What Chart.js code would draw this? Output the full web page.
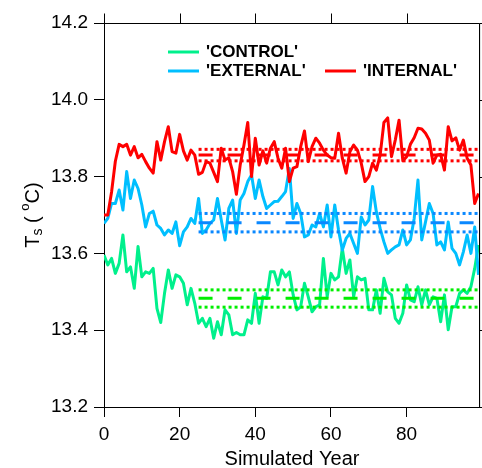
<!DOCTYPE html>
<html>
<head>
<meta charset="utf-8">
<script src="https://cdn.jsdelivr.net/npm/chart.js@4"></script>
<style>
body{margin:0;background:#fff}
</style>
</head>
<body>
<canvas id="myChart" width="482" height="468"></canvas>
<script>
// simulated years 0..99
var years=[];
for(var i=0;i<100;i++){years.push(i);}

var xMax=99.4;
var xTicks=[0,20,40,60,80];
var yTicks=[13.2,13.4,13.6,13.8,14.0,14.2];

var control=[13.596,13.570,13.587,13.548,13.574,13.648,13.552,13.565,13.509,13.618,
13.539,13.552,13.548,13.561,13.457,13.420,13.496,13.557,13.509,13.544,
13.539,13.522,13.466,13.509,13.470,13.418,13.431,13.409,13.431,13.379,
13.422,13.388,13.453,13.440,13.388,13.394,13.388,13.388,13.427,13.418,
13.496,13.418,13.487,13.483,13.552,13.552,13.518,13.557,13.539,13.552,
13.492,13.453,13.461,13.522,13.487,13.448,13.461,13.466,13.587,13.487,
13.548,13.531,13.539,13.613,13.548,13.583,13.487,13.539,13.531,13.535,
13.453,13.453,13.505,13.444,13.535,13.500,13.492,13.431,13.418,13.444,
13.518,13.479,13.474,13.513,13.466,13.505,13.466,13.487,13.483,13.422,
13.492,13.401,13.461,13.461,13.496,13.505,13.496,13.513,13.561,13.622];

var external=[13.678,13.691,13.730,13.730,13.765,13.713,13.813,13.743,13.791,13.769,
13.726,13.669,13.704,13.710,13.674,13.665,13.648,13.661,13.652,13.682,
13.620,13.656,13.669,13.691,13.678,13.743,13.652,13.661,13.678,13.687,
13.743,13.687,13.635,13.717,13.739,13.652,13.739,13.756,13.787,13.804,
13.743,13.791,13.748,13.717,13.726,13.735,13.736,13.748,13.761,13.821,
13.691,13.730,13.704,13.643,13.648,13.674,13.669,13.704,13.669,13.726,
13.643,13.726,13.661,13.609,13.639,13.652,13.626,13.600,13.695,13.674,
13.687,13.774,13.708,13.665,13.630,13.600,13.609,13.617,13.622,13.661,
13.622,13.635,13.691,13.791,13.635,13.682,13.730,13.704,13.622,13.630,
13.609,13.682,13.613,13.600,13.570,13.604,13.648,13.600,13.669,13.544];

var internal=[13.700,13.700,13.760,13.840,13.884,13.878,13.884,13.856,13.878,13.849,
13.858,13.839,13.822,13.809,13.891,13.843,13.891,13.930,13.865,13.861,
13.910,13.867,13.843,13.869,13.856,13.806,13.811,13.839,13.835,13.811,
13.787,13.874,13.843,13.849,13.813,13.754,13.830,13.882,13.941,13.800,
13.900,13.830,13.867,13.835,13.874,13.891,13.848,13.822,13.874,13.787,
13.822,13.826,13.878,13.919,13.839,13.878,13.900,13.887,13.869,13.856,
13.849,13.848,13.913,13.848,13.809,13.865,13.882,13.869,13.835,13.787,
13.800,13.835,13.817,13.856,13.941,13.953,13.852,13.895,13.947,13.841,
13.852,13.884,13.901,13.926,13.924,13.913,13.895,13.835,13.856,13.858,
13.817,13.930,13.893,13.901,13.869,13.895,13.848,13.830,13.730,13.756];

// mean and bounds over years 25..end
var refStart=25;
var controlMean=[13.483,13.460,13.505];
var externalMean=[13.680,13.656,13.704];
var internalMean=[13.856,13.841,13.871];

var fontFam='"Liberation Sans", Arial, Helvetica, sans-serif';

function pts(arr){
  var out=[];
  for(var i=0;i<years.length;i++){out.push({x:years[i],y:arr[i]});}
  return out;
}
function refLine(v,color,dash){
  return {label:'',data:[{x:refStart,y:v},{x:xMax,y:v}],borderColor:color,borderWidth:3,
    borderDash:dash,pointRadius:0,fill:false,tension:0};
}

var refSets=[];
var refDefs=[[controlMean,'#00ee00'],[externalMean,'#0a88ff'],[internalMean,'#ff0000']];
for(var r=0;r<refDefs.length;r++){
  refSets.push(refLine(refDefs[r][0][0],refDefs[r][1],[14,15]));
  refSets.push(refLine(refDefs[r][0][1],refDefs[r][1],[3,3]));
  refSets.push(refLine(refDefs[r][0][2],refDefs[r][1],[3,3]));
}

var mainSets=[
  {label:"'INTERNAL'",data:pts(internal),borderColor:'#ff0000'},
  {label:"'EXTERNAL'",data:pts(external),borderColor:'#00bfff'},
  {label:"'CONTROL'",data:pts(control),borderColor:'#00f08c'}
];
for(var m=0;m<mainSets.length;m++){
  mainSets[m].borderWidth=3;
  mainSets[m].pointRadius=0;
  mainSets[m].tension=0;
  mainSets[m].fill=false;
  mainSets[m].borderJoinStyle='round';
}

// legend, axis titles and the top/right frame with its ticks drawn by hand
var extras={
  id:'extras',
  afterDraw:function(chart){
    var ctx=chart.ctx;
    var ca=chart.chartArea;
    var sx=chart.scales.x, sy=chart.scales.y;
    ctx.save();
    ctx.setLineDash([]);
    ctx.strokeStyle='#000';
    ctx.lineWidth=1;
    ctx.beginPath();
    var topY=Math.round(ca.top)+0.5, rightX=Math.round(ca.right)-0.5;
    ctx.moveTo(ca.left,topY);
    ctx.lineTo(rightX,topY);
    ctx.lineTo(rightX,ca.bottom);
    for(var t=0;t<xTicks.length;t++){
      var px=Math.round(sx.getPixelForValue(xTicks[t]))+0.5;
      ctx.moveTo(px,topY);
      ctx.lineTo(px,topY-10);
    }
    for(var t=0;t<yTicks.length;t++){
      var py=Math.round(sy.getPixelForValue(yTicks[t]))+0.5;
      ctx.moveTo(rightX,py);
      ctx.lineTo(rightX+10,py);
    }
    ctx.stroke();

    var leg=[["'CONTROL'",'#00f08c',168,52],["'EXTERNAL'",'#00bfff',168,71],["'INTERNAL'",'#ff0000',325,71]];
    ctx.font='bold 17px '+fontFam;
    ctx.textBaseline='middle';
    ctx.textAlign='left';
    for(var i=0;i<leg.length;i++){
      ctx.strokeStyle=leg[i][1];
      ctx.lineWidth=3;
      ctx.beginPath();
      ctx.moveTo(leg[i][2],leg[i][3]);
      ctx.lineTo(leg[i][2]+31,leg[i][3]);
      ctx.stroke();
      ctx.fillStyle='#000';
      ctx.fillText(leg[i][0],leg[i][2]+38,leg[i][3]);
    }
    // x title
    ctx.font='20px '+fontFam;
    ctx.textAlign='center';
    ctx.fillText('Simulated Year',(ca.left+ca.right)/2,459);
    // y title T_s ( oC)
    var parts=[['T',20,0],['s',14,5],[' ( ',20,0],['o',13,-8],['C)',20,0]];
    var total=0;
    for(var p=0;p<parts.length;p++){
      ctx.font=parts[p][1]+'px '+fontFam;
      total+=ctx.measureText(parts[p][0]).width;
    }
    ctx.translate(33,(ca.top+ca.bottom)/2);
    ctx.rotate(-Math.PI/2);
    ctx.textAlign='left';
    var xx=-total/2;
    for(var p=0;p<parts.length;p++){
      ctx.font=parts[p][1]+'px '+fontFam;
      ctx.fillText(parts[p][0],xx,parts[p][2]);
      xx+=ctx.measureText(parts[p][0]).width;
    }
    ctx.restore();
  }
};

var gridOpts={drawOnChartArea:false,color:'#000',tickLength:10,tickWidth:1};
var borderOpts={color:'#000',width:1};

var chartContainer=document.getElementById('myChart');
var myChart=new Chart(chartContainer,{
  type:'line',
  data:{datasets:refSets.concat(mainSets)},
  options:{
    responsive:false,
    animation:false,
    devicePixelRatio:1,
    layout:{padding:0},
    plugins:{legend:{display:false},tooltip:{enabled:false}},
    scales:{
      x:{type:'linear',position:'bottom',min:0,max:xMax,
        afterBuildTicks:function(s){s.ticks=xTicks.map(function(v){return {value:v};});},
        afterFit:function(s){s.height=61;},
        grid:gridOpts,border:borderOpts,
        ticks:{color:'#000',font:{family:fontFam,size:19},padding:6,maxRotation:0}},
      x2:{type:'linear',position:'top',min:0,max:xMax,
        afterFit:function(s){s.height=23;},
        grid:{display:false},ticks:{display:false}},
      y:{type:'linear',position:'left',min:13.2,max:14.2,
        afterBuildTicks:function(s){s.ticks=yTicks.map(function(v){return {value:v};});},
        afterFit:function(s){s.width=104;},
        grid:gridOpts,border:borderOpts,
        ticks:{color:'#000',font:{family:fontFam,size:19},padding:6,
          callback:function(v){return v.toFixed(1);}}},
      y2:{type:'linear',position:'right',min:13.2,max:14.2,
        afterFit:function(s){s.width=2;},
        grid:{display:false},ticks:{display:false}}
    }
  },
  plugins:[extras]
});
</script>
</body>
</html>
